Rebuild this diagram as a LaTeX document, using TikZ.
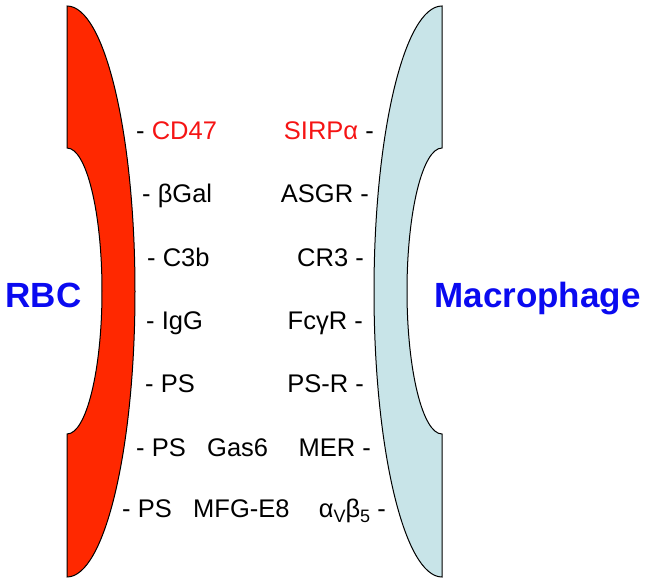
\documentclass[tikz,border=0pt]{standalone}
\usepackage{fontspec}
\setmainfont{Liberation Sans}
\definecolor{rbcred}{RGB}{255,40,0}
\definecolor{macblue}{RGB}{200,228,232}
\definecolor{titleblue}{RGB}{10,10,240}
\definecolor{ligred}{RGB}{245,20,20}
\newcommand{\subidx}[1]{\raisebox{-5pt}{\fontsize{18}{20}\selectfont #1}}
\begin{document}
\begin{tikzpicture}[
		x=1pt, y=-1pt,
		membrane/.style={
			draw,
			line width=1pt
		},
		leftlab/.style={
			anchor=base west,
			inner sep=0pt,
			font=\fontsize{25.5}{30}\selectfont
		},
		rightlab/.style={
			anchor=base east,
			inner sep=0pt,
			font=\fontsize{25.5}{30}\selectfont
		},
		title/.style={
			anchor=base,
			inner sep=0pt,
			text=titleblue,
			font=\fontsize{35}{40}\selectfont\bfseries
		}
		]
		
		\useasboundingbox (0,0) rectangle (649,584);
		
		% RBC membrane
		\draw[membrane, fill=rbcred] (67,6)
			arc[start angle=-90, end angle=90, x radius=68, y radius=285.5]
			-- (67,434)
			arc[start angle=90, end angle=-90, x radius=35, y radius=143]
			-- cycle;
		
		% Macrophage membrane
		\draw[membrane, fill=macblue] (442,6)
			arc[start angle=-90, end angle=-270, x radius=68, y radius=285.5]
			-- (442,434)
			arc[start angle=90, end angle=270, x radius=35, y radius=143]
			-- cycle;
		
		% Cell names
		\node[title] (rbc) at (43.5,307) {RBC};
		\node[title] (mac) at (537.5,307) {Macrophage};
		
		% RBC ligands
		\node[leftlab] (cd47) at (136,139) {- \textcolor{ligred}{CD47}};
		\node[leftlab] (bgal) at (142,202) {- βGal};
		\node[leftlab] (c3b) at (147,266) {- C3b};
		\node[leftlab] (igg) at (146,329) {- IgG};
		\node[leftlab] (psA) at (145,392) {- PS};
		\node[leftlab] (psB) at (136,456) {- PS};
		\node[leftlab] (psC) at (122,517) {- PS};
		
		% Bridging molecules
		\node[leftlab] (gas6) at (207,456) {Gas6};
		\node[leftlab] (mfge8) at (193,517) {MFG-E8};
		
		% Macrophage receptors
		\node[rightlab] (sirpa) at (374,139) {\textcolor{ligred}{SIRPα} -};
		\node[rightlab] (asgr) at (369,202) {ASGR -};
		\node[rightlab] (cr3) at (364,266) {CR3 -};
		\node[rightlab] (fcgr) at (363,329) {FcγR -};
		\node[rightlab] (psr) at (364,392) {PS-R -};
		\node[rightlab] (mer) at (371,456) {MER -};
		\node[rightlab] (avb5) at (386,517) {α\subidx{V}β\subidx{5} -};
		
	\end{tikzpicture}
\end{document}
